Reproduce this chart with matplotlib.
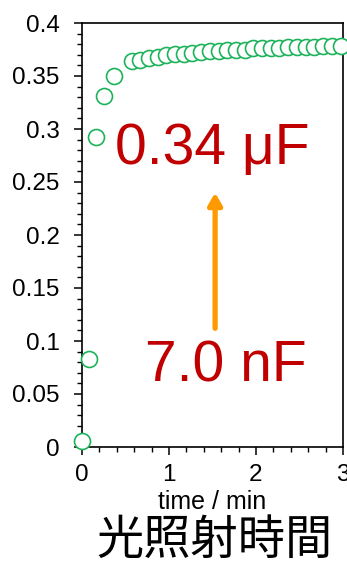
import matplotlib
matplotlib.use("Agg")
import matplotlib.pyplot as plt
from matplotlib.ticker import MultipleLocator

time_min = [0.0, 0.08, 0.157, 0.256, 0.364,
            0.57, 0.67, 0.77, 0.87, 0.97, 1.07, 1.17, 1.27, 1.37, 1.47,
            1.57, 1.67, 1.77, 1.87, 1.97, 2.07, 2.17, 2.27, 2.37, 2.47,
            2.57, 2.67, 2.77, 2.87, 2.98]
capacitance = [0.006, 0.083, 0.292, 0.331, 0.350,
               0.364, 0.365, 0.367, 0.368, 0.370, 0.371, 0.371, 0.372, 0.373, 0.374,
               0.374, 0.375, 0.375, 0.375, 0.376, 0.376, 0.376, 0.376, 0.377, 0.377,
               0.377, 0.377, 0.378, 0.378, 0.378]
y_ticks = [0, 0.05, 0.1, 0.15, 0.2, 0.25, 0.3, 0.35, 0.4]
y_tick_labels = ["0", "0.05", "0.1", "0.15", "0.2", "0.25", "0.3", "0.35", "0.4"]
x_ticks = [0, 1, 2, 3]
x_tick_labels = ["0", "1", "2", "3"]
label_high = "0.34 μF"
label_low = "7.0 nF"
xlabel = "time / min"
jp_label = "光照射時間"

plt.rcParams['font.family'] = ['Liberation Sans', 'DejaVu Sans']

fig = plt.figure(figsize=(3.47, 5.65), dpi=100)
ax = fig.add_axes([82/347, 1-447/565, (343-82)/347, (447-23)/565])

ax.plot(time_min, capacitance, linestyle='none', marker='o', markersize=11.5,
        markerfacecolor='white', markeredgecolor='#1db35a', markeredgewidth=1.2,
        clip_on=False, zorder=3)

ax.set_xlim(0, 3)
ax.set_ylim(0, 0.4)
ax.set_xticks(x_ticks)
ax.set_xticklabels(x_tick_labels)
ax.set_yticks(y_ticks)
ax.set_yticklabels(y_tick_labels)
ax.xaxis.set_minor_locator(MultipleLocator(0.2))
ax.yaxis.set_minor_locator(MultipleLocator(0.01))
ax.tick_params(which='major', direction='out', length=6, width=1.1, labelsize=17.5,
               top=False, right=False)
ax.tick_params(axis='y', which='major', pad=10)
ax.tick_params(axis='x', which='major', pad=6)
ax.tick_params(which='minor', direction='out', length=3.5, width=1.0, top=False, right=False)
for s in ax.spines.values():
    s.set_linewidth(1.2)

ax.set_xlabel(xlabel, fontsize=18, labelpad=3)

ax.text(1.50, 0.281, label_high, color='#c00000', fontsize=41, ha='center', va='center')
ax.text(1.65, 0.076, label_low, color='#c00000', fontsize=41, ha='center', va='center')
ax.annotate('', xy=(1.53, 0.240), xytext=(1.53, 0.112),
            arrowprops=dict(arrowstyle='-|>,head_width=0.4,head_length=0.7',
                            color='#ff9900', lw=3.8, shrinkA=0, shrinkB=0))

fig.text(215/347, 1-541/565, jp_label, fontsize=34, ha='center', va='center',
         family=['Noto Sans CJK JP', 'DejaVu Sans'])

fig.savefig('out.png', dpi=100)
